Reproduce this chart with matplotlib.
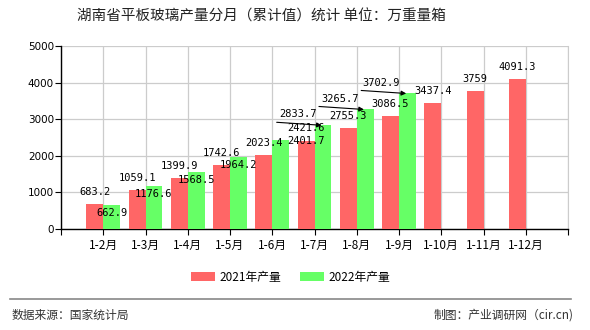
import numpy as np
import matplotlib
matplotlib.use('Agg')
import matplotlib.pyplot as plt

plt.rcParams['font.family'] = ['Noto Sans CJK SC', 'DejaVu Sans']

months = ['1-2月', '1-3月', '1-4月', '1-5月', '1-6月', '1-7月', '1-8月', '1-9月', '1-10月', '1-11月', '1-12月']
prod_2021 = [683.2, 1059.1, 1399.9, 1742.6, 2023.4, 2401.7, 2755.3, 3086.5, 3437.4, 3759, 4091.3]
prod_2022 = [662.9, 1176.6, 1568.5, 1964.2, 2421.6, 2833.7, 3265.7, 3702.9]

red = '#ff6666'
green = '#66ff66'

fig = plt.figure(figsize=(5.9, 3.3), dpi=100)
ax = fig.add_axes([61 / 590, 101 / 330, 507 / 590, 183 / 330])

x = np.arange(len(months))
w = 0.4
ax.bar(x - w / 2, prod_2021, w, color=red, zorder=3, label='2021年产量')
x2 = x[:len(prod_2022)]
ax.bar(x2 + w / 2, prod_2022, w, color=green, zorder=3, label='2022年产量')

ax.set_xlim(-1, 11)
ax.set_ylim(0, 5000)
ax.set_yticks(np.arange(0, 5001, 1000))
ax.set_xticks(np.arange(-1, 12))
ax.set_xticklabels([''] + months + [''])
ax.tick_params(axis='x', length=4, width=0.8, pad=3, labelsize=8.5)
ax.tick_params(axis='y', length=4, width=0.8, pad=1, labelsize=7.5)
for lab in ax.get_yticklabels():
    lab.set_family('DejaVu Sans')

ax.grid(True, color='#cccccc', lw=0.9, zorder=0)
ax.spines['top'].set_visible(False)
ax.spines['right'].set_color('#cccccc')
ax.spines['left'].set_linewidth(1)
ax.spines['bottom'].set_linewidth(1)

# label offsets in pixels: red sits above its bar, green just below its top
lbl = dict(fontsize=7.5, family='DejaVu Sans Mono', ha='center', va='center',
           textcoords='offset pixels', zorder=5)
red_off = {5: (0, 0)}
green_off = {4: (25, 12), 5: (-25, 11), 6: (-25, 10), 7: (-26, 10)}
arrows = [5, 6, 7]

for i, v in enumerate(prod_2021):
    ax.annotate(f'{v:g}', xy=(x[i] - w / 2, v), xytext=red_off.get(i, (0, 12)), **lbl)
for i, v in enumerate(prod_2022):
    ax.annotate(f'{v:g}', xy=(x[i] + w / 2, v), xytext=green_off.get(i, (0, -8)), **lbl)
    if i in arrows:
        ax.annotate('', xy=(x[i] + w / 2 - 0.03, v), xytext=(-45, 3), textcoords='offset pixels',
                    arrowprops=dict(arrowstyle='-|>', color='black', lw=0.8,
                                    mutation_scale=7, shrinkA=0, shrinkB=0), zorder=5)

fig.text(261 / 590, 1 - 17 / 330, '湖南省平板玻璃产量分月（累计值）统计 单位：万重量箱',
         ha='center', va='center', fontsize=10.5, color='#222222')

fig.legend(loc='center', bbox_to_anchor=(291 / 590, 1 - 277 / 330), ncol=2, frameon=False,
           fontsize=8.5, handlelength=2.0, handleheight=0.8, columnspacing=1.6, handletextpad=0.4)

fig.add_artist(plt.Line2D([10 / 590, 571 / 590], [1 - 299 / 330] * 2, color='#888888', lw=1.2))
fig.text(12 / 590, 1 - 315 / 330, '数据来源：国家统计局', ha='left', va='center', fontsize=8.5, color='#333333')
fig.text(574 / 590, 1 - 315 / 330, '制图：产业调研网（cir.cn)', ha='right', va='center', fontsize=8.5, color='#333333')

fig.savefig('out.png', dpi=100)
